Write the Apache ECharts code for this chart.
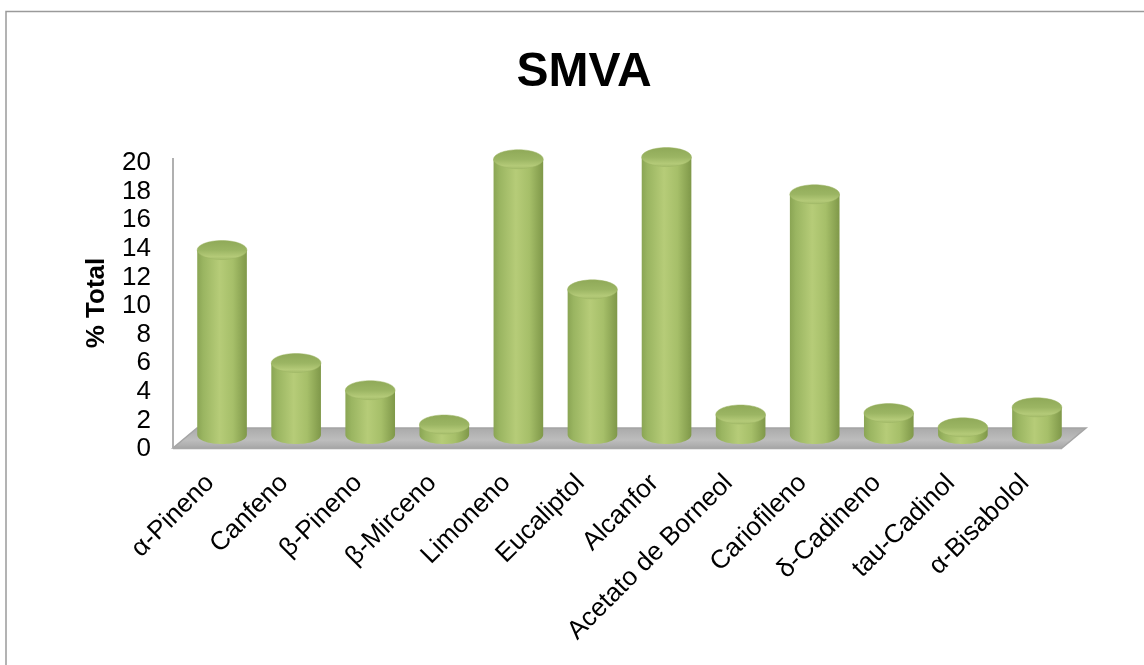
<!DOCTYPE html>
<html>
<head>
<meta charset="utf-8">
<script src="https://cdn.jsdelivr.net/npm/echarts@6/dist/echarts.min.js"></script>
<style>html,body{margin:0;padding:0;background:#fff}#c{width:1144px;height:665px}</style>
</head>
<body>
<div id="c"></div>
<script>
const categories = ['α-Pineno','Canfeno','β-Pineno','β-Mirceno','Limoneno','Eucaliptol','Alcanfor','Acetato de Borneol','Cariofileno','δ-Cadineno','tau-Cadinol','α-Bisabolol'];
const totals = [12.9,5.0,3.1,0.7,19.25,10.15,19.4,1.4,16.8,1.5,0.5,1.9];
const yTicks = [0,2,4,6,8,10,12,14,16,18,20];

const FONT = '"Liberation Sans", Arial, sans-serif';
const DEPTH_X = 24, DEPTH_Y = 20;      // oblique offset of the chart's rear plane
const sideFill = {type:'linear',x:0,y:0,x2:1,y2:0,colorStops:[
  {offset:0,color:'#8aa554'},{offset:0.12,color:'#9ab561'},{offset:0.45,color:'#b6cc78'},
  {offset:0.72,color:'#a6bf69'},{offset:0.92,color:'#8aa352'},{offset:1,color:'#7f9849'}]};
const capFill = {type:'linear',x:0,y:0,x2:0,y2:1,colorStops:[
  {offset:0,color:'#8fa958'},{offset:0.5,color:'#9bb563'},{offset:0.84,color:'#b4ca78'},{offset:1,color:'#a3bb69'}]};

const chart = echarts.init(document.getElementById('c'));

// Floor slab and the axis strokes, placed from the axis scale
function renderFloor(params, api) {
  const p0 = api.coord([0, 0]);
  const cs = params.coordSys;
  const x0 = cs.x, x1 = cs.x + cs.width;
  const yb = p0[1] + 2;
  return {type:'group', children:[
    {type:'polygon', shape:{points:[[x0,yb],[x0+DEPTH_X,yb-DEPTH_Y],[x1+DEPTH_X,yb-DEPTH_Y],[x1,yb]]},
     style:{fill:{type:'linear',x:0,y:0,x2:0,y2:1,colorStops:[{offset:0,color:'#a9a9a9'},{offset:0.6,color:'#bdbdbd'},{offset:1,color:'#a6a6a6'}]},stroke:'#a5a5a5',lineWidth:1.5}},
    {type:'line', shape:{x1:x0,y1:cs.y-2,x2:x0,y2:yb}, style:{stroke:'#b0b0b0',lineWidth:2}},
    {type:'line', shape:{x1:x0,y1:yb,x2:x1,y2:yb}, style:{stroke:'#a8a8a8',lineWidth:2.5}}
  ]};
}

// One cylinder: side body with rounded base, then the elliptical cap
function renderCylinder(params, api) {
  const top = api.coord([api.value(0), api.value(1)]);
  const base = api.coord([api.value(0), 0]);
  const band = api.size([1, 0])[0];
  const rx = band * 0.335, ry = 9.5;
  const cx = top[0] + 0.5 * DEPTH_X;
  const shiftY = 11.5;
  const yT = top[1] - shiftY, yB = base[1] - shiftY;
  const c = ry * 4 / 3;
  const body = 'M' + (cx-rx) + ' ' + yT + 'L' + (cx-rx) + ' ' + yB +
    'C' + (cx-rx) + ' ' + (yB+c) + ' ' + (cx+rx) + ' ' + (yB+c) + ' ' + (cx+rx) + ' ' + yB +
    'L' + (cx+rx) + ' ' + yT + 'Z';
  return {type:'group', children:[
    {type:'path', shape:{pathData:body}, style:{fill:sideFill}},
    {type:'ellipse', shape:{cx:cx,cy:yT,rx:rx,ry:ry}, style:{fill:capFill,stroke:'#9cb564',lineWidth:0.5}}
  ]};
}

chart.setOption({
  animation:false,
  backgroundColor:'#fff',
  title:{text:'SMVA',left:579,top:44,textAlign:'center',
    textStyle:{fontFamily:FONT,fontSize:48,fontWeight:'bold',color:'#000'}},
  grid:{left:173,right:82,top:160,bottom:219,containLabel:false},
  xAxis:{type:'category',data:categories,
    axisLine:{show:false},axisTick:{show:false},
    axisLabel:{interval:0,rotate:45,fontFamily:FONT,fontSize:26,color:'#000',margin:33}},
  yAxis:{type:'value',min:0,max:20,interval:2,
    name:'% Total',nameLocation:'middle',nameGap:63,nameRotate:90,
    nameTextStyle:{fontFamily:FONT,fontSize:26,fontWeight:'bold',color:'#000'},
    axisLine:{show:false},axisTick:{show:false},splitLine:{show:false},
    axisLabel:{color:'#000',margin:22,
      formatter:v => yTicks.includes(v) ? '{t|' + v + '}' : '',
      rich:{t:{fontFamily:FONT,fontSize:26,color:'#000',padding:[6,0,0,0]}}}},
  series:[
    {type:'custom',data:[[0,0]],renderItem:renderFloor,silent:true,z:1,clip:false},
    {type:'custom',data:categories.map((c,i)=>[i,totals[i]]),renderItem:renderCylinder,z:2,clip:false,
     encode:{x:0,y:1}}
  ],
  graphic:[{type:'polyline',shape:{points:[[6,665],[6,11.5],[1144,11.5]]},
    style:{fill:'none',stroke:'#9a9a9a',lineWidth:1.5},silent:true,z:-1}]
});
</script>
</body>
</html>
